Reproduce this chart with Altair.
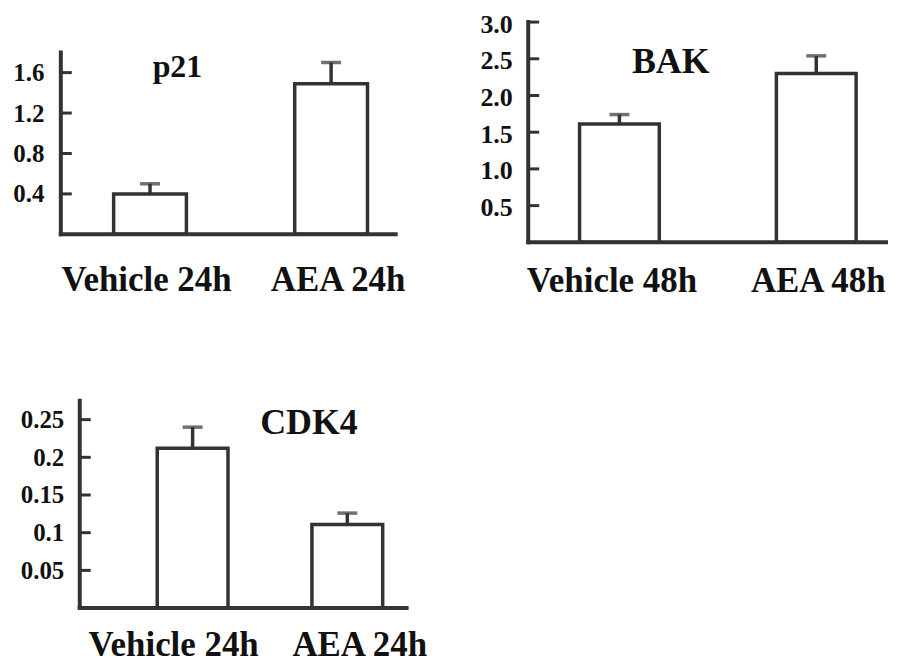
import altair as alt
import pandas as pd

FONT = "Liberation Serif"
INK = "#333333"
TXT = "#111111"

# ---- data ----
p21_cats = ["Vehicle 24h", "AEA 24h"]
p21_vals = [0.40, 1.49]
p21_errs = [0.10, 0.21]
p21_ticks = [0.4, 0.8, 1.2, 1.6]
p21_axis_top = 1.8

bak_cats = ["Vehicle 48h", "AEA 48h"]
bak_vals = [1.61, 2.30]
bak_errs = [0.13, 0.24]
bak_ticks = [0.5, 1.0, 1.5, 2.0, 2.5, 3.0]
bak_axis_top = 3.0

cdk4_cats = ["Vehicle 24h", "AEA 24h"]
cdk4_vals = [0.212, 0.111]
cdk4_errs = [0.028, 0.015]
cdk4_ticks = [0.05, 0.1, 0.15, 0.2, 0.25]
cdk4_axis_top = 0.275


def panel(title, cats, vals, errs, ticks, axis_top, *, width, height, ymax, band,
          fmt, tick_font, tick_pad, tick_lab_off, x_pad, lab_off, axis_x,
          title_xy, title_size):
    df = pd.DataFrame({"cat": cats, "val": vals,
                       "hi": [v + e for v, e in zip(vals, errs)]})
    pi, po, al = band
    xenc = alt.X(
        "cat:N", sort=cats,
        scale=alt.Scale(paddingInner=pi, paddingOuter=po, align=al),
        axis=alt.Axis(title=None, labelAngle=0, labelFont=FONT, labelFontSize=35,
                      labelFontWeight="bold", labelColor=TXT, labelPadding=x_pad,
                      labelOffset={"condition": {"test": f"datum.value == '{cats[1]}'",
                                                 "value": lab_off[1]},
                                   "value": lab_off[0]},
                      ticks=False, tickSize=0, domain=False, grid=False),
    )
    yscale = alt.Scale(domain=[0, ymax], nice=False, zero=True)
    yaxis = alt.Axis(title=None, values=ticks, format=fmt, domain=False, ticks=False,
                     tickSize=0, grid=False, labelFont=FONT, labelFontSize=tick_font,
                     labelFontWeight="bold", labelColor=TXT, labelPadding=tick_pad,
                     labelOffset=tick_lab_off,
                     offset=-axis_x, labelFlush=False, labelOverlap=False)

    base = alt.Chart(df)
    bars = base.mark_bar(fill="white", stroke=INK, strokeWidth=3.5).encode(
        x=xenc, y=alt.Y("val:Q", scale=yscale, axis=yaxis))
    stems = base.mark_rule(color=INK, strokeWidth=3.5).encode(
        x=xenc, y=alt.Y("val:Q", scale=yscale, axis=yaxis), y2="hi:Q")
    caps = base.mark_tick(color=INK, thickness=3.5, size=20, orient="horizontal").encode(
        x=xenc, y=alt.Y("hi:Q", scale=yscale, axis=yaxis))
    tdf = pd.DataFrame({"v": ticks})
    tickmarks = alt.Chart(tdf).mark_rule(color=INK, strokeWidth=3).encode(
        y=alt.Y("v:Q", scale=yscale, axis=yaxis),
        x=alt.value(axis_x), x2=alt.value(axis_x + 11))
    ldf = pd.DataFrame({"lo": [0.0], "top": [axis_top]})
    yline = alt.Chart(ldf).mark_rule(color=INK, strokeWidth=4, strokeCap="square").encode(
        y=alt.Y("lo:Q", scale=yscale, axis=yaxis), y2="top:Q", x=alt.value(axis_x))
    xline = alt.Chart(ldf).mark_rule(color=INK, strokeWidth=4, strokeCap="square").encode(
        y=alt.Y("lo:Q", scale=yscale, axis=yaxis),
        x=alt.value(axis_x), x2=alt.value(width))
    txt = alt.Chart(pd.DataFrame({"t": [title]})).mark_text(
        font=FONT, fontSize=title_size, fontWeight="bold", color=TXT,
        align="center", baseline="alphabetic").encode(
        text="t:N", x=alt.value(title_xy[0]), y=alt.value(title_xy[1]))
    return alt.layer(bars, stems, caps, tickmarks, yline, xline, txt).properties(
        width=width, height=height)


p21 = panel("p21", p21_cats, p21_vals, p21_errs, p21_ticks, p21_axis_top,
            width=336, height=213, ymax=2.1, band=(0.598, 0.2237, 0.652),
            fmt=".1f", tick_font=25, tick_pad=17, tick_lab_off=0, x_pad=28,
            lab_off=(-3.5, 7), axis_x=0, title_xy=(117, 55), title_size=32)
bak = panel("BAK", bak_cats, bak_vals, bak_errs, bak_ticks, bak_axis_top,
            width=359, height=221, ymax=3.0, band=(0.595, 0.2063, 0.632),
            fmt=".1f", tick_font=26, tick_pad=16, tick_lab_off=2, x_pad=21,
            lab_off=(-7.5, 2), axis_x=0, title_xy=(143, 51), title_size=36)
cdk4 = panel("CDK4", cdk4_cats, cdk4_vals, cdk4_errs, cdk4_ticks, cdk4_axis_top,
             width=347, height=208, ymax=0.275, band=(0.5425, 0.389, 0.801),
             fmt="~g", tick_font=25, tick_pad=16, tick_lab_off=0, x_pad=19.5,
             lab_off=(-19, 12.5), axis_x=19, title_xy=(249, 33), title_size=36)

chart = alt.concat(
    p21, bak, cdk4, columns=2,
    spacing={"row": 100, "column": 51},
    align="each",
).configure_view(stroke=None).properties(
    padding={"left": 4, "top": 2, "right": 0, "bottom": 0},
    background="white",
)

chart.save("out.html", embed_options={"renderer": "svg", "actions": False})
